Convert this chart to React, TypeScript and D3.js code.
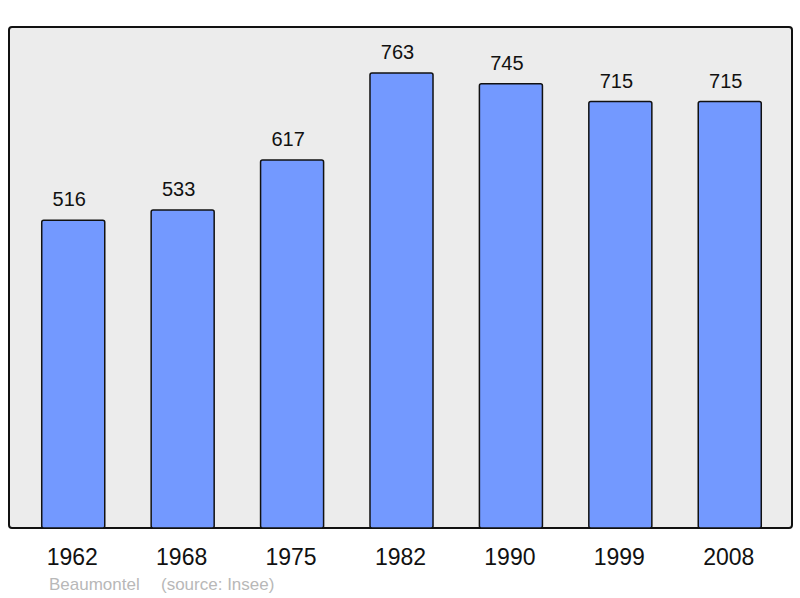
import React from 'react';
import * as d3 from 'd3';

const years = ['1962', '1968', '1975', '1982', '1990', '1999', '2008'];
const population = [516, 533, 617, 763, 745, 715, 715];
const footerPlace = 'Beaumontel';
const footerSource = '(source: Insee)';

const W = 800;
const H = 598;
const frame = { left: 9, top: 27, right: 792, bottom: 528 };

const App = () => {
    const x = d3.scaleBand<string>()
        .domain(years)
        .range([frame.left + 1, frame.right + 1])
        .paddingInner(0.424)
        .paddingOuter(0.29);

    const y = d3.scaleLinear()
        .domain([0, 840])
        .range([frame.bottom, frame.top]);

    const font = 'Liberation Sans, Arial, sans-serif';

    return (
        <div style={{ position: 'absolute', left: 0, top: 0 }}>
            <svg width={W} height={H} style={{ display: 'block', background: '#fff' }}>
                <rect
                    x={frame.left}
                    y={frame.top}
                    width={frame.right - frame.left}
                    height={frame.bottom - frame.top}
                    rx={3}
                    fill="#ececec"
                    stroke="#111"
                    strokeWidth={2}
                />
                {years.map((yr, i) => (
                    <g key={yr}>
                        <rect
                            x={x(yr)}
                            y={y(population[i])}
                            width={x.bandwidth()}
                            height={y(0) - y(population[i])}
                            rx={2}
                            fill="#7399ff"
                            stroke="#111"
                            strokeWidth={1.5}
                        />
                        <text
                            x={(x(yr) ?? 0) + x.bandwidth() / 2 - 4}
                            y={y(population[i]) - 14}
                            textAnchor="middle"
                            fontFamily={font}
                            fontSize={20}
                            fill="#111"
                        >
                            {population[i]}
                        </text>
                        <text
                            x={(x(yr) ?? 0) + x.bandwidth() / 2 - 1}
                            y={565}
                            textAnchor="middle"
                            fontFamily={font}
                            fontSize={23}
                            fill="#111"
                        >
                            {yr}
                        </text>
                    </g>
                ))}
                <text x={49} y={590} fontFamily={font} fontSize={17} fill="#b8b8b8">
                    {footerPlace}
                </text>
                <text x={161} y={590} fontFamily={font} fontSize={17} fill="#b8b8b8">
                    {footerSource}
                </text>
            </svg>
        </div>
    );
};

export default App;
